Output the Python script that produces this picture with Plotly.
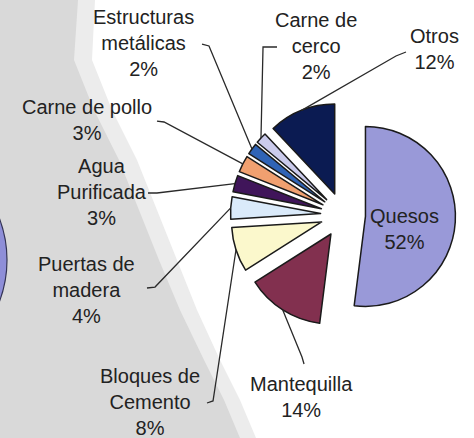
import math
import plotly.graph_objects as go

# ---- data ----
labels = ["Quesos", "Mantequilla", "Bloques de Cemento", "Puertas de madera",
          "Agua Purificada", "Carne de pollo", "Estructuras metálicas",
          "Carne de cerco", "Otros"]
display_names = ["Quesos", "Mantequilla", "Bloques de<br>Cemento", "Puertas de<br>madera",
                 "Agua<br>Purificada", "Carne de pollo", "Estructuras<br>metálicas",
                 "Carne de<br>cerco", "Otros"]
values = [52, 14, 8, 4, 3, 3, 2, 2, 12]
colors = ["#9999D8", "#82304F", "#FBF8CC", "#DAEAFA", "#40155A", "#F0A070",
          "#3064B6", "#CBCBEC", "#0B1B52"]
pulls = [0.25, 0.25, 0.25, 0.25, 0.25, 0.25, 0.25, 0.25, 0.25]

# ---- layout geometry (pixels) ----
W, H = 474, 438
CX, CY = 343, 215
R = 90
half = R * (1 + max(pulls))
dom_x = [(CX - half) / W, (CX + half) / W]
dom_y = [(H - CY - half) / H, (H - CY + half) / H]

# label block centres (px) and leader anchor / elbow points (px)
label_pos = {
    "Quesos": (404, 229),
    "Mantequilla": (301, 397),
    "Bloques de Cemento": (150, 402),
    "Puertas de madera": (86, 290),
    "Agua Purificada": (102, 192),
    "Carne de pollo": (87, 120),
    "Estructuras metálicas": (143, 43),
    "Carne de cerco": (316, 46),
    "Otros": (434, 49),
}
leaders = {
    "Mantequilla": [(304, 364), (302, 357)],
    "Bloques de Cemento": [(207, 403), (213, 401)],
    "Puertas de madera": [(147, 288), (155, 287)],
    "Agua Purificada": [(148, 193), (157, 193)],
    "Carne de pollo": [(157, 121), (164, 122)],
    "Estructuras metálicas": [(202, 44), (209, 46)],
    "Carne de cerco": [(277, 47), (263, 47)],
    "Otros": [(406, 52), (396, 56)],
}

def px(x, y):
    return x / W, 1 - y / H

fig = go.Figure()
fig.add_trace(go.Pie(
    labels=labels, values=values, sort=False, direction="clockwise", rotation=0,
    pull=pulls, textinfo="none", hoverinfo="label+percent",
    marker=dict(colors=colors, line=dict(color="#1a1a1a", width=1.5)),
    domain=dict(x=dom_x, y=dom_y), showlegend=False,
))

shapes = []
# grey textured-looking band on the left
outer = [(0, 0), (95, 0), (92, 60), (112, 110), (137, 160), (157, 210), (177, 260),
         (197, 310), (220, 360), (240, 400), (256, 438), (0, 438)]
inner = [(0, 0), (78, 0), (74, 60), (94, 110), (119, 160), (139, 210), (159, 260),
         (180, 310), (204, 360), (224, 400), (240, 438), (0, 438)]
for poly, col in ((outer, "#ececec"), (inner, "#d9d9d9")):
    pts = [px(x, y) for x, y in poly]
    path = "M " + " L ".join(f"{a:.4f},{b:.4f}" for a, b in pts) + " Z"
    shapes.append(dict(type="path", path=path, xref="paper", yref="paper",
                       fillcolor=col, line=dict(width=0), layer="below"))
# partial disc at the far left
x0, y0 = px(-111 - 118, 260 - 118)
x1, y1 = px(-111 + 118, 260 + 118)
shapes.append(dict(type="circle", xref="paper", yref="paper", x0=x0, y0=y1, x1=x1, y1=y0,
                   fillcolor="#8E8ED8", line=dict(color="#333355", width=1.2), layer="below"))

# leader lines to slice edges (tips computed from the data)
total = sum(values)
cum = 0.0
annotations = []
for name, disp, v, p in zip(labels, display_names, values, pulls):
    a0 = cum / total * 360
    cum += v
    a1 = cum / total * 360
    mid = math.radians((a0 + a1) / 2)
    dx, dy = math.sin(mid), -math.cos(mid)
    tip = (CX + dx * R * (1 + p), CY + dy * R * (1 + p))
    if name in leaders:
        pts = leaders[name] + [tip]
        pts = [px(x, y) for x, y in pts]
        path = "M " + " L ".join(f"{a:.4f},{b:.4f}" for a, b in pts)
        shapes.append(dict(type="path", path=path, xref="paper", yref="paper",
                           line=dict(color="#2a2a2a", width=1.3)))
    lx, ly = px(*label_pos[name])
    annotations.append(dict(x=lx, y=ly, xref="paper", yref="paper", showarrow=False,
                            text=f"{disp}<br>{v}%", xanchor="center", yanchor="middle",
                            align="center",
                            font=dict(family="Arial, Liberation Sans, sans-serif",
                                      size=20, color="#222222")))

fig.update_layout(
    width=W, height=H, margin=dict(l=0, r=0, t=0, b=0),
    paper_bgcolor="white", plot_bgcolor="white",
    shapes=shapes, annotations=annotations,
)

fig.write_html("out.html", config={"displayModeBar": False},
               post_script="document.body.style.margin='0';document.body.style.overflow='hidden';")
